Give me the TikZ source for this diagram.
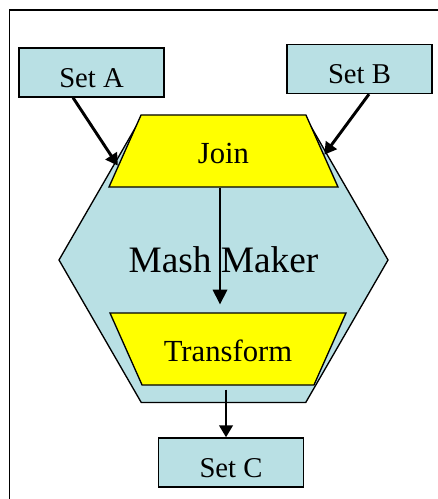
\documentclass[tikz,border=0pt]{standalone}
\usepackage{fontspec}
\setmainfont{Liberation Serif}
\usetikzlibrary{shapes.geometric,arrows.meta,calc}
\definecolor{setblue}{RGB}{185,224,228}
\definecolor{stepyellow}{RGB}{255,255,0}
\begin{document}
\begin{tikzpicture}[x=0.75pt,y=-0.75pt,
	setbox/.style={draw,line width=1pt,fill=setblue,minimum width=108.75pt,minimum height=36.75pt,inner sep=0pt,text height=22pt,text depth=0pt,font=\fontsize{21.5}{24}\selectfont},
	stagebox/.style={draw,line width=1pt,fill=stepyellow,trapezium,trapezium left angle=66,trapezium right angle=66,trapezium stretches body,text height=19.5pt,text depth=1.5pt,inner xsep=0pt,inner ysep=16.5pt,font=\fontsize{23}{26}\selectfont},
	bigarrow/.style={line width=2.2pt,-{Triangle[length=9pt,width=10pt]}},
	thinarrow/.style={line width=1pt,-{Triangle[length=11pt,width=11pt]}}]
		\useasboundingbox (0,0) rectangle (438,499);
		% frame
		\draw[line width=1pt] (9.5,499) -- (9.5,10) -- (438,10);
		% mash maker
		\node[draw,line width=1pt,fill=setblue,regular polygon,regular polygon sides=6,minimum size=246.75pt,inner sep=0pt,font=\fontsize{28}{32}\selectfont] (maker) at (223.5,260) {Mash Maker};
		\node[stagebox,minimum width=171.75pt] (join) at (223.5,151) {Join};
		\node[stagebox,shape border rotate=180,minimum width=177pt] (transform) at (228,349) {Transform};
		% sets
		\node[setbox] (setA) at (91.5,72.5) {Set A};
		\node[setbox] (setB) at (359.5,69) {Set B};
		\node[setbox] (setC) at (231,462.5) {Set C};
		% arrows
		\draw[bigarrow] ($(setA.south)+(-18.5,0)$) -- ($(join.top left corner)!0.7!(join.bottom left corner)$);
		\draw[bigarrow] ($(setB.south)+(9.5,0)$) -- ($(join.top right corner)!0.55!(join.bottom right corner)$);
		\draw[thinarrow,shorten >=6pt] ($(join.south)+(-3.5,0)$) coordinate (j) -- (j |- transform.north);
		\draw[bigarrow,shorten <=3pt] ($(transform.south)+(-2,0)$) coordinate (t) -- (t |- setC.north);
\end{tikzpicture}
\end{document}
